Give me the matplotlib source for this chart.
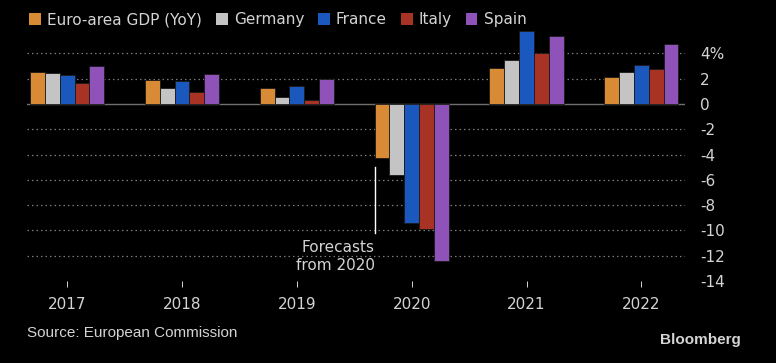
"""Euro-area GDP growth by country, Bloomberg-style bar chart."""

import matplotlib.pyplot as plt
import numpy as np
from matplotlib.patches import Patch

years = ["2017", "2018", "2019", "2020", "2021", "2022"]
series_names = ["Euro-area GDP (YoY)", "Germany", "France", "Italy", "Spain"]
euro_area = [2.55, 1.92, 1.29, -4.3, 2.87, 2.16]
germany = [2.47, 1.29, 0.58, -5.64, 3.45, 2.53]
france = [2.29, 1.84, 1.45, -9.43, 5.77, 3.08]
italy = [1.66, 0.92, 0.32, -9.85, 4.06, 2.79]
spain = [3.0, 2.37, 2.0, -12.4, 5.37, 4.77]
y_ticks = [4, 2, 0, -2, -4, -6, -8, -10, -12, -14]
y_tick_labels = ["4%", "2", "0", "-2", "-4", "-6", "-8", "-10", "-12", "-14"]

COLORS = ["#D98A34", "#C4C4C4", "#1B58BD", "#A83224", "#8E52B8"]
BG = "black"
TEXT = "#D4D4D4"

fig = plt.figure(figsize=(7.76, 3.63), dpi=100, facecolor=BG)
ax = fig.add_axes([0.0348, 0.2259, 0.8479, 0.7039], facecolor=BG)

x = np.arange(len(years))
width = 0.129
all_series = [euro_area, germany, france, italy, spain]
for i, (values, color) in enumerate(zip(all_series, COLORS)):
    ax.bar(x + (i - 2) * width, values, width, color=color,
           edgecolor="#1a1a1a", linewidth=0.6, zorder=3)

ax.set_xlim(-0.35, 5.38)
ax.set_ylim(-14, 6.2)

for t in y_ticks:
    if t == 0:
        ax.axhline(0, color="#707070", linewidth=1.0, zorder=2)
    elif t != -14:
        ax.axhline(t, color="#7a7a7a", linewidth=0.9, linestyle=(0, (1.2, 2.4)), zorder=1)

ax.yaxis.tick_right()
ax.set_yticks(y_ticks)
ax.set_yticklabels(y_tick_labels)
ax.tick_params(axis="y", length=0, pad=11, labelsize=11, labelcolor=TEXT)
ax.set_xticks(x)
ax.set_xticklabels(years)
ax.tick_params(axis="x", length=4.5, width=0.7, color=TEXT, pad=7,
               labelsize=11, labelcolor=TEXT)
for side in ["top", "bottom", "left", "right"]:
    ax.spines[side].set_visible(False)

# forecast marker
line_x = 3 - 2.5 * width
ax.plot([line_x, line_x], [-5.0, -10.2], color="white", linewidth=1.0, zorder=4)
ax.text(line_x, -10.75, "Forecasts\nfrom 2020", ha="right", va="top",
        color=TEXT, fontsize=11, linespacing=1.25)

handles = [Patch(facecolor=c, edgecolor="none") for c in COLORS]
fig.legend(handles, series_names, loc="center left", bbox_to_anchor=(0.0296, 0.946),
           ncol=5, frameon=False, fontsize=11, labelcolor=TEXT,
           handlelength=0.78, handleheight=0.78, handletextpad=0.4,
           columnspacing=0.9, borderaxespad=0)

fig.text(27 / 776, 1 - 333 / 363, "Source: European Commission", ha="left", va="center",
         color=TEXT, fontsize=11, family="Liberation Sans")
fig.text(741 / 776, 1 - 340 / 363, "Bloomberg", ha="right", va="center",
         color=TEXT, fontsize=11, fontweight="bold", family="Liberation Sans")

fig.savefig("out.png", dpi=100, facecolor=BG)
